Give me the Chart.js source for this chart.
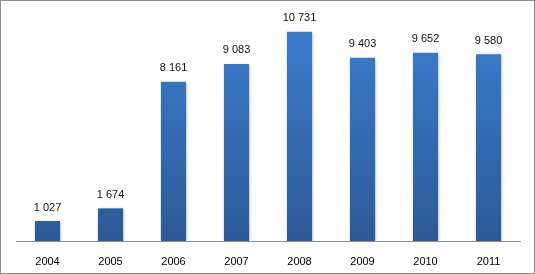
<html>
<head>
<meta charset="UTF-8">
<title>Bars 2004-2011</title>
<script src="https://cdn.jsdelivr.net/npm/chart.js@4"></script>
<style>
  body { margin: 0; background: #fff; }
  #wrap { width: 535px; height: 274px; box-sizing: border-box; border: 1px solid #8c8c8c; }
</style>
</head>
<body>
<div id="wrap">
  <canvas id="chart1"></canvas>
</div>
<script>
var years = ["2004", "2005", "2006", "2007", "2008", "2009", "2010", "2011"];
var values = [1027, 1674, 8161, 9083, 10731, 9403, 9652, 9580];

// space as thousands separator, like the original
function fmt(v) {
    return String(v).replace(/\B(?=(\d{3})+(?!\d))/g, " ");
}

var valueLabels = {
    id: "valueLabels",
    afterDatasetsDraw: function (chart) {
        var ctx = chart.ctx;
        var meta = chart.getDatasetMeta(0);
        ctx.save();
        ctx.font = "11px 'Liberation Sans', sans-serif";
        ctx.fillStyle = "#111";
        ctx.textAlign = "center";
        ctx.textBaseline = "bottom";
        meta.data.forEach(function (bar, i) {
            ctx.fillText(fmt(values[i]), bar.x, bar.y - 8);
        });
        ctx.restore();
    }
};

var barShadow = {
    id: "barShadow",
    beforeDatasetsDraw: function (chart) {
        var ctx = chart.ctx;
        ctx.save();
        ctx.shadowColor = "rgba(0,0,0,0.25)";
        ctx.shadowBlur = 3;
        ctx.shadowOffsetX = 1;
        ctx.shadowOffsetY = 1;
    },
    afterDatasetsDraw: function (chart) {
        chart.ctx.restore();
    }
};

function barFill(context) {
    var area = context.chart.chartArea;
    if (!area) return "#3570b8";
    var g = context.chart.ctx.createLinearGradient(0, area.top, 0, area.bottom);
    g.addColorStop(0, "#3b80d2");
    g.addColorStop(1, "#2c5a97");
    return g;
}

var ctx1 = document.getElementById("chart1");
var myBarChart = new Chart(ctx1, {
    type: "bar",
    data: {
        labels: years,
        datasets: [{
            data: values,
            backgroundColor: barFill,
            borderWidth: 0,
            categoryPercentage: 1,
            barPercentage: 0.4
        }]
    },
    options: {
        responsive: true,
        maintainAspectRatio: false,
        animation: false,
        layout: { padding: { left: 15, right: 14, top: 6, bottom: 0 } },
        plugins: {
            legend: { display: false },
            tooltip: { enabled: false }
        },
        scales: {
            y: { display: false, min: 0, max: 12000 },
            x: {
                afterFit: function (axis) { axis.height = 32; },
                grid: { display: false, drawTicks: false },
                border: { display: true, color: "#8c8c8c", width: 1 },
                ticks: {
                    color: "#000",
                    padding: 14,
                    font: { family: "'Liberation Sans', sans-serif", size: 11 }
                }
            }
        }
    },
    plugins: [barShadow, valueLabels]
});
</script>
</body>
</html>
